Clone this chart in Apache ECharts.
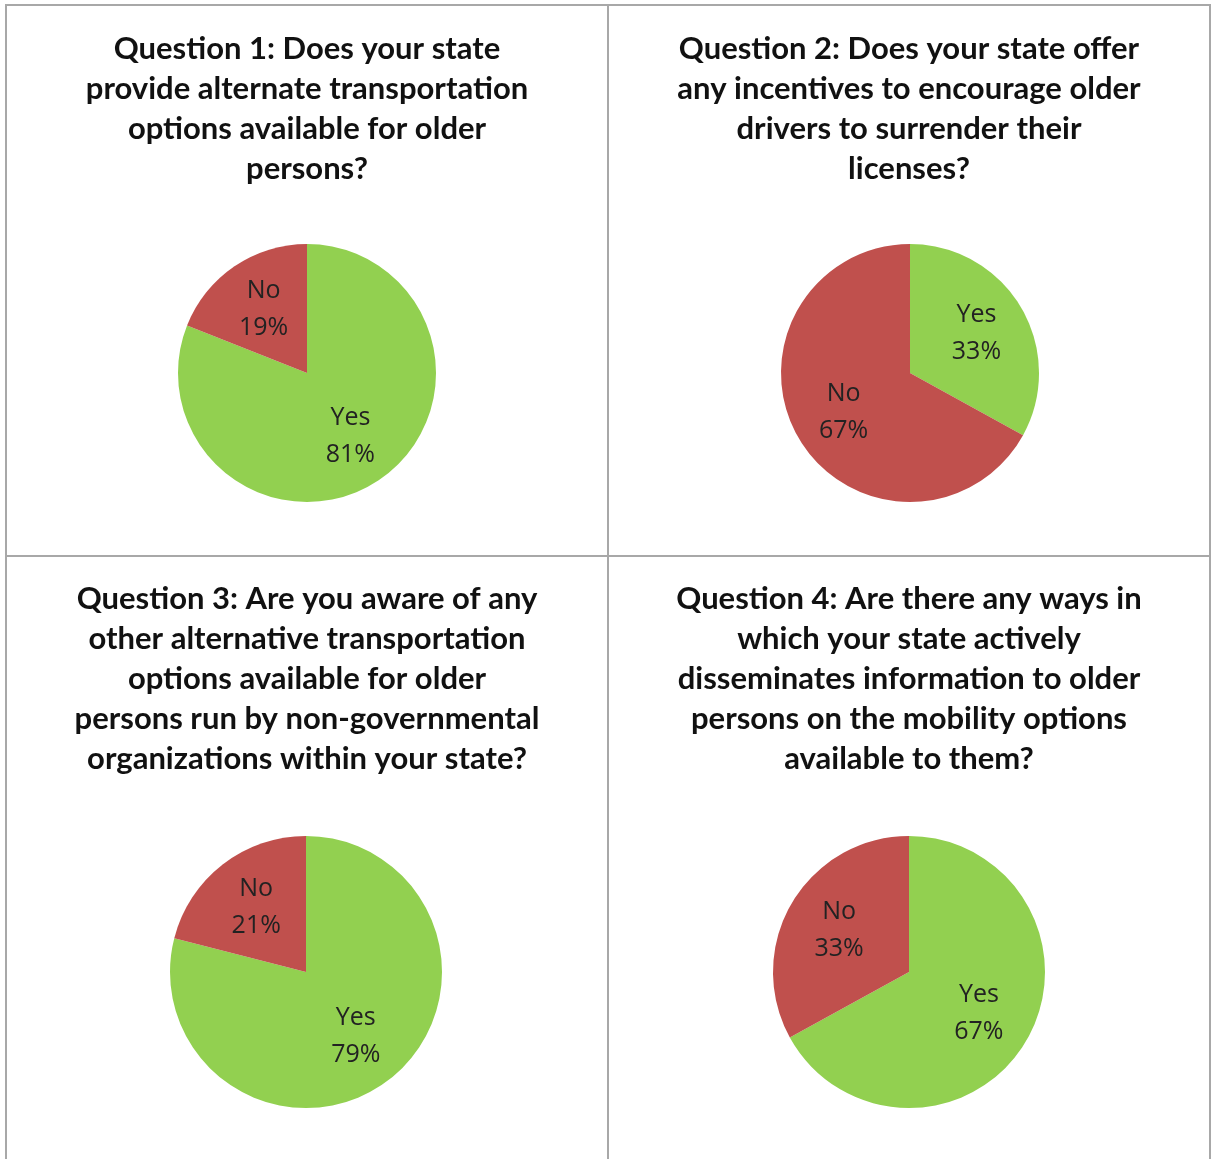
<!DOCTYPE html>
<html><head><meta charset="utf-8">
<script src="https://cdn.jsdelivr.net/npm/echarts@6/dist/echarts.min.js"></script>
<style>html,body{margin:0;padding:0;background:#fff}#c{width:1212px;height:1159px}</style>
</head><body><div id="c"></div>
<script>
const titles = [
  "Question 1: Does your state\nprovide alternate transportation\noptions available for older\npersons?",
  "Question 2: Does your state offer\nany incentives to encourage older\ndrivers to surrender their\nlicenses?",
  "Question 3: Are you aware of any\nother alternative transportation\noptions available for older\npersons run by non-governmental\norganizations within your state?",
  "Question 4: Are there any ways in\nwhich your state actively\ndisseminates information to older\npersons on the mobility options\navailable to them?"
];
const categories = ["Yes", "No"];
const q1Values = [81, 19];
const q2Values = [33, 67];
const q3Values = [79, 21];
const q4Values = [67, 33];
const allValues = [q1Values, q2Values, q3Values, q4Values];

const colors = ["#92D050", "#C0504D"];
const layout = [
  {cx: 307, cy: 373, r: 129, tx: 302, ty: 24},
  {cx: 910, cy: 373, r: 129, tx: 904, ty: 24},
  {cx: 306, cy: 972, r: 136, tx: 302, ty: 574},
  {cx: 909, cy: 972, r: 136, tx: 904, ty: 574}
];

const series = [];
const title = [];
allValues.forEach((vals, i) => {
  const L = layout[i];
  const data = categories.map((c, j) => ({name: c, value: vals[j], itemStyle: {color: colors[j]}}));
  title.push({
    text: titles[i], left: L.tx, top: L.ty, textAlign: 'center',
    textStyle: {fontFamily: 'Lato', fontWeight: 'bold', fontSize: 31, lineHeight: 40, color: '#111'}
  });
  series.push({
    type: 'pie', center: [L.cx, L.cy], radius: [0, L.r], startAngle: 90, clockwise: true,
    silent: true, animation: false, label: {show: false}, labelLine: {show: false}, data: data
  });
  series.push({
    type: 'pie', center: [L.cx, L.cy], radius: [0, L.r * 1.15], startAngle: 90, clockwise: true,
    silent: true, animation: false, z: 5,
    itemStyle: {color: 'rgba(0,0,0,0)'},
    label: {show: true, position: 'inside', formatter: '{b}\n{c}%', fontFamily: 'Open Sans',
      fontSize: 25, lineHeight: 37, color: '#222'},
    labelLine: {show: false},
    data: categories.map((c, j) => ({name: c, value: vals[j], itemStyle: {color: 'rgba(0,0,0,0)'}}))
  });
});

const lineStyle = {stroke: '#a8a8a8', lineWidth: 2};
const graphic = [
  {type: 'line', shape: {x1: 5, y1: 5, x2: 1211, y2: 5}, style: lineStyle},
  {type: 'line', shape: {x1: 6, y1: 5, x2: 6, y2: 1159}, style: lineStyle},
  {type: 'line', shape: {x1: 1210, y1: 5, x2: 1210, y2: 1159}, style: lineStyle},
  {type: 'line', shape: {x1: 608, y1: 5, x2: 608, y2: 1159}, style: lineStyle},
  {type: 'line', shape: {x1: 5, y1: 556, x2: 1211, y2: 556}, style: lineStyle}
];

const chart = echarts.init(document.getElementById('c'), null, {renderer: 'canvas'});
chart.setOption({backgroundColor: '#fff', animation: false, title, series, graphic});
</script>
</body></html>
